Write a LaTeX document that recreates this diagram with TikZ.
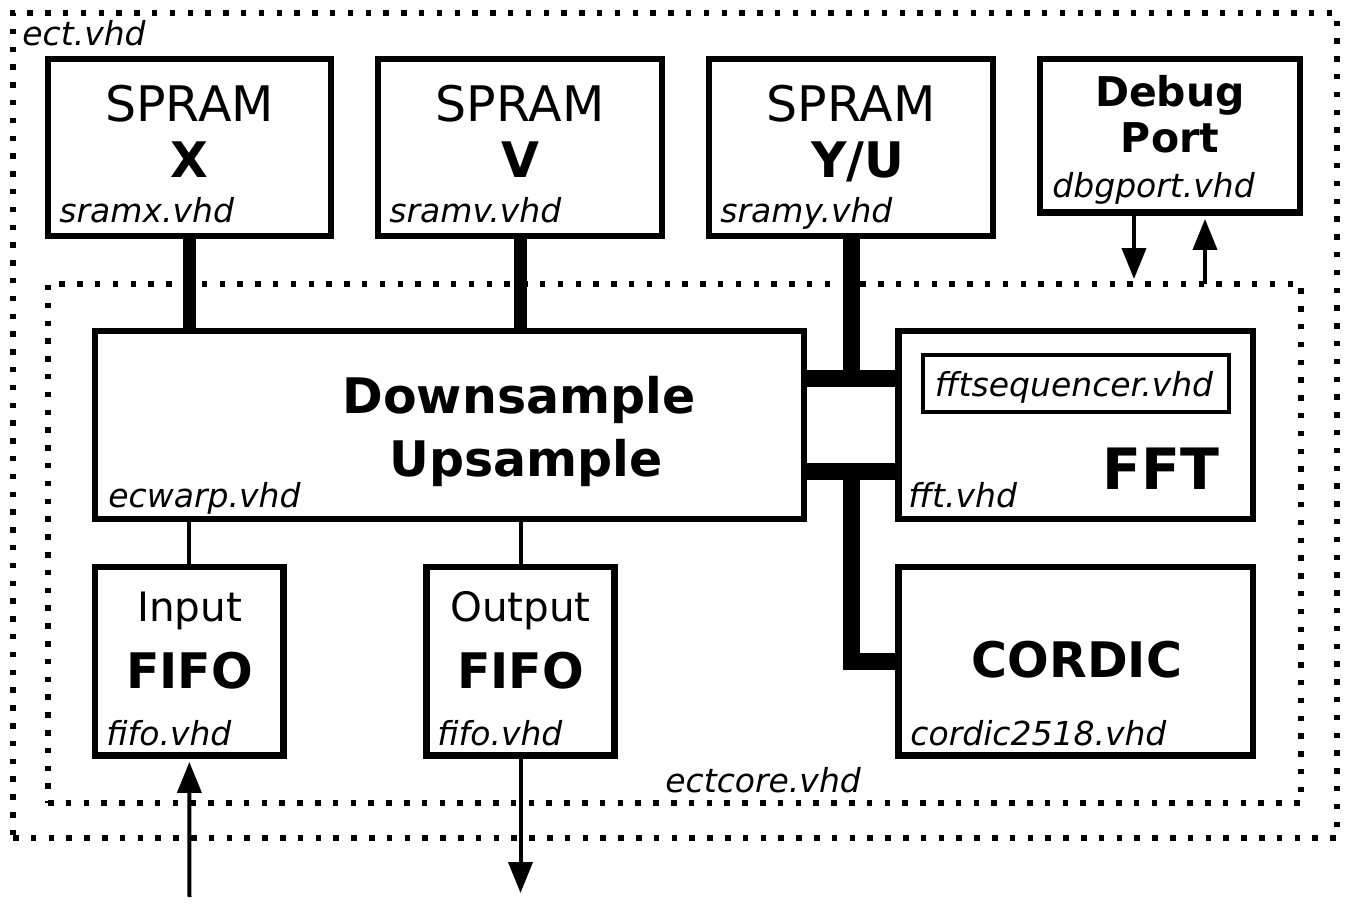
\documentclass[tikz,border=0pt]{standalone}
\usepackage{fontspec}
\setmainfont{DejaVu Sans}
\usetikzlibrary{fit,arrows.meta}

\tikzset{
  blk/.style={draw,line width=3.25pt,inner sep=0pt},
  frame/.style={draw,line width=2.75pt,dash pattern=on 2.75pt off 6.15pt,inner sep=0pt},
  file/.style={font=\fontsize{16.5}{18}\selectfont\itshape,inner sep=0pt,anchor=base west},
  big/.style={font=\fontsize{24.5}{28}\selectfont,inner sep=0pt,anchor=base},
  bigb/.style={font=\fontsize{24.5}{28}\selectfont\bfseries,inner sep=0pt,anchor=base},
  mid/.style={font=\fontsize{20.25}{23}\selectfont,inner sep=0pt,anchor=base},
  midb/.style={font=\fontsize{20.5}{23}\selectfont\bfseries,inner sep=0pt,anchor=base},
  bus/.style={line width=6.5pt},
  wide/.style={line width=8.5pt},
  wire/.style={line width=2pt},
  arr/.style={line width=2pt,-{Triangle[length=15.5pt,width=12pt]}},
}

\begin{document}
\begin{tikzpicture}[x=0.5pt,y=-0.5pt]
  \useasboundingbox (0,0) rectangle (1346,905);

  % outer and inner files
  \node[frame,fit={(13,13) (1337,838)}] (ect) {};
  \node[file] (ectname) at (22,45) {ect.vhd};
  \node[frame,fit={(48,284) (1301,803)}] (ectcore) {};
  \node[file] (ectcorename) at (665,792) {ectcore.vhd};

  % memories
  \foreach \name/\xa/\xb/\dx/\tag in {sramx/48/331/0/X, sramv/378/662/0/V, sramy/709/993/7/Y\slash U} {
    \pgfmathsetmacro\xc{(\xa+\xb)/2}
    \node[blk,fit={(\xa,59) (\xb,236)}] (\name) {};
    \node[big] (\name-top) at (\xc,121) {SPRAM};
    \node[bigb] (\name-tag) at (\xc+\dx,177) {\tag};
    \node[file] (\name-file) at (\xa+11,222) {\name.vhd};
  }

  % debug port
  \node[blk,fit={(1040,59) (1300,212.5)}] (dbg) {};
  \node[midb] (dbg-top) at (1170,106) {Debug};
  \node[midb] (dbg-tag) at (1170,152) {Port};
  \node[file] (dbg-file) at (1052,197) {dbgport.vhd};

  % core blocks
  \node[blk,fit={(95,331) (804,519)}] (ds) {};
  \node[bigb] (ds-down) at (519,413) {Downsample};
  \node[bigb] (ds-up) at (526,476) {Upsample};
  \node[file] (ds-file) at (108,507) {ecwarp.vhd};

  \node[blk,fit={(898.5,331) (1253,519)}] (fft) {};
  \node[draw,line width=2pt,inner sep=0pt,fit={(923,355) (1228.5,412)}] (fftseq) {};
  \node[font=\fontsize{16.5}{18}\selectfont\itshape,inner sep=0pt,anchor=base] (fftseq-file) at (1074,396.5) {fftsequencer.vhd};
  \node[font=\fontsize{28.5}{32}\selectfont\bfseries,inner sep=0pt,anchor=base east] (fft-tag) at (1220,489) {FFT};
  \node[file] (fft-file) at (908,507) {fft.vhd};

  \node[blk,fit={(898.5,567) (1253,755.5)}] (cordic) {};
  \node[bigb] (cordic-tag) at (1077,677) {CORDIC};
  \node[file] (cordic-file) at (910,745) {cordic2518.vhd};

  \node[blk,fit={(95,567) (283.7,755.5)}] (infifo) {};
  \node[mid] (infifo-top) at (189.5,621.5) {Input};
  \node[bigb] (infifo-tag) at (189.5,688.5) {FIFO};
  \node[file] (infifo-file) at (106,745.5) {fifo.vhd};

  \node[blk,fit={(426.5,567) (614.5,755.5)}] (outfifo) {};
  \node[mid] (outfifo-top) at (520.5,621.5) {Output};
  \node[bigb] (outfifo-tag) at (520.5,688.5) {FIFO};
  \node[file] (outfifo-file) at (437,745.5) {fifo.vhd};

  % memory buses
  \draw[bus] (sramx.south) -- (sramx.south |- ds.north);
  \draw[bus] (sramv.south) -- (sramv.south |- ds.north);
  \coordinate (busa) at (851,378);
  \coordinate (busb) at (851,471);
  \draw[wide] (sramy.south) -- (busa);
  \draw[wide] (ds.east |- busa) -- (fft.west |- busa);
  \draw[wide] (ds.east |- busb) -- (fft.west |- busb);
  \draw[wide] (busb) -- (busb |- cordic.west) -- (cordic.west);

  % fifo links
  \draw[wire] (infifo.north) -- (infifo.north |- ds.south);
  \draw[wire] (outfifo.north) -- (outfifo.north |- ds.south);

  % ports
  \coordinate (inport) at (189.5,897);
  \coordinate (outport) at (520.5,893);
  \coordinate (dbgin) at (1134,279);
  \coordinate (dbgout) at (1205,284);
  \draw[arr,shorten >=1.6pt] (inport) -- (infifo.south);
  \draw[arr] (outfifo.south) -- (outport);
  \draw[arr] (dbg.south -| dbgin) -- (dbgin);
  \draw[arr,shorten >=1.6pt] (dbgout) -- (dbg.south -| dbgout);
\end{tikzpicture}
\end{document}
